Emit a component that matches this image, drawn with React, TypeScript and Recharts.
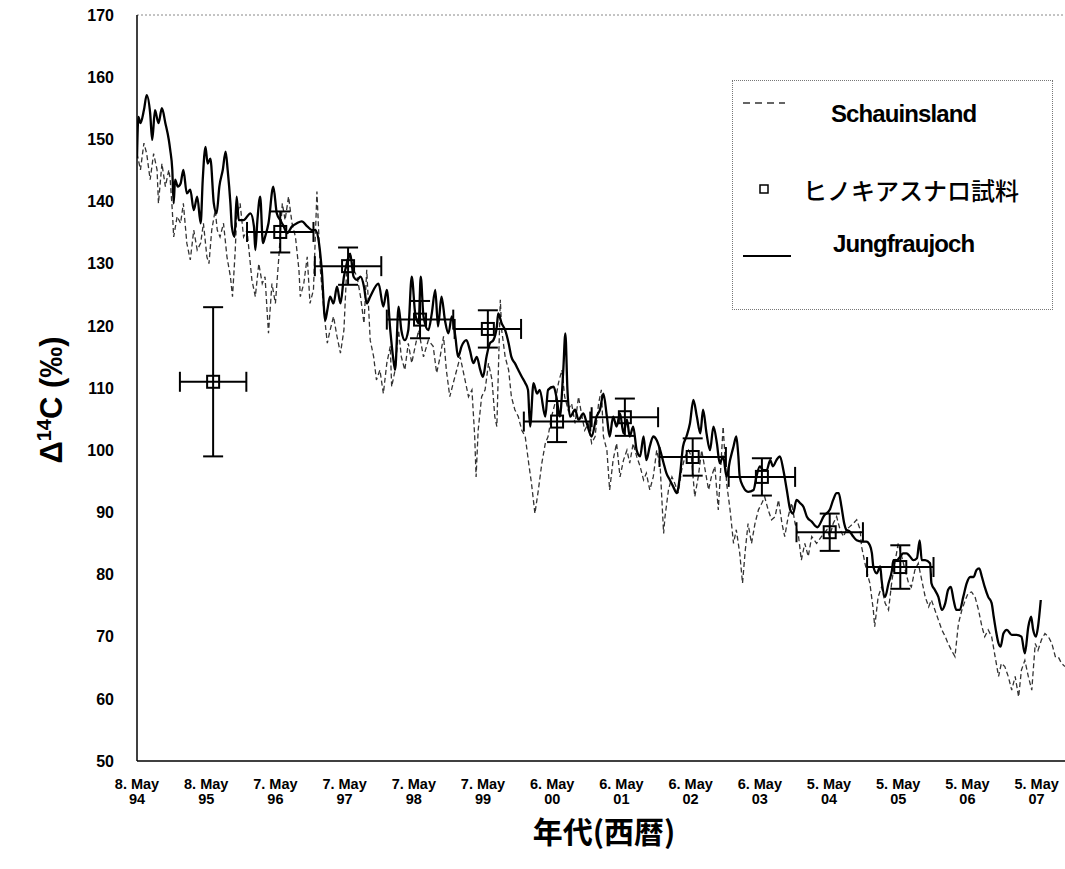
import React from 'react';
import {
  ComposedChart,
  Line,
  Scatter,
  ErrorBar,
  XAxis,
  YAxis,
  ReferenceLine,
  Legend,
} from 'recharts';

// Jungfraujoch (solid) — decimal year / Δ14C ‰
const jfTimes = [
  1994.35, 1994.37, 1994.4, 1994.45, 1994.49, 1994.54, 1994.57, 1994.61, 1994.66, 1994.71, 1994.76, 1994.81, 1994.83,
  1994.86, 1994.88, 1994.9, 1994.94, 1994.98, 1995.02, 1995.07, 1995.12, 1995.17, 1995.22, 1995.27, 1995.3, 1995.34,
  1995.37, 1995.41, 1995.46, 1995.5, 1995.54, 1995.59, 1995.63, 1995.66, 1995.7, 1995.72, 1995.76, 1995.79, 1995.82,
  1995.89, 1995.99, 1996.04, 1996.06, 1996.09, 1996.13, 1996.17, 1996.2, 1996.25, 1996.32, 1996.37, 1996.42, 1996.47,
  1996.52, 1996.59, 1996.66, 1996.73, 1996.81, 1996.88, 1996.93, 1996.98, 1997.02, 1997.07, 1997.1, 1997.14, 1997.19,
  1997.24, 1997.29, 1997.34, 1997.38, 1997.43, 1997.48, 1997.53, 1997.58, 1997.63, 1997.67, 1997.72, 1997.84, 1997.91,
  1997.96, 1998.01, 1998.05, 1998.08, 1998.13, 1998.17, 1998.22, 1998.27, 1998.32, 1998.37, 1998.42, 1998.45, 1998.49,
  1998.56, 1998.61, 1998.66, 1998.7, 1998.75, 1998.8, 1998.85, 1998.9, 1998.95, 1998.99, 1999.04, 1999.11, 1999.16,
  1999.21, 1999.26, 1999.31, 1999.35, 1999.4, 1999.45, 1999.5, 1999.55, 1999.57, 1999.62, 1999.67, 1999.72, 1999.76,
  1999.81, 1999.86, 1999.91, 1999.96, 2000.0, 2000.03, 2000.08, 2000.13, 2000.17, 2000.25, 2000.29, 2000.37, 2000.41,
  2000.46, 2000.51, 2000.54, 2000.57, 2000.61, 2000.68, 2000.73, 2000.8, 2000.85, 2000.92, 2000.99, 2001.04, 2001.09,
  2001.14, 2001.18, 2001.23, 2001.28, 2001.33, 2001.38, 2001.43, 2001.47, 2001.52, 2001.57, 2001.62, 2001.67, 2001.71,
  2001.76, 2001.81, 2001.86, 2001.91, 2001.96, 2002.0, 2002.05, 2002.1, 2002.15, 2002.2, 2002.24, 2002.29, 2002.34,
  2002.39, 2002.44, 2002.49, 2002.53, 2002.58, 2002.63, 2002.68, 2002.73, 2002.77, 2002.82, 2002.87, 2002.92, 2002.97,
  2003.01, 2003.04, 2003.06, 2003.11, 2003.18, 2003.26, 2003.3, 2003.35, 2003.4, 2003.45, 2003.5, 2003.54, 2003.59,
  2003.64, 2003.69, 2003.74, 2003.79, 2003.83, 2003.88, 2003.93, 2003.98, 2004.03, 2004.1, 2004.18, 2004.28, 2004.36,
  2004.41, 2004.46, 2004.49, 2004.53, 2004.57, 2004.6, 2004.65, 2004.7, 2004.75, 2004.82, 2004.89, 2004.94, 2004.97,
  2004.99, 2005.04, 2005.09, 2005.11, 2005.16, 2005.21, 2005.26, 2005.28, 2005.33, 2005.38, 2005.42, 2005.47, 2005.52,
  2005.57, 2005.62, 2005.66, 2005.69, 2005.74, 2005.81, 2005.83, 2005.88, 2005.93, 2005.98, 2006.03, 2006.07, 2006.11,
  2006.15, 2006.19, 2006.24, 2006.29, 2006.34, 2006.39, 2006.44, 2006.48, 2006.52, 2006.56, 2006.6, 2006.65, 2006.7,
  2006.73, 2006.76, 2006.8, 2006.83, 2006.87, 2006.92, 2006.99, 2007.06, 2007.13, 2007.18, 2007.23, 2007.27, 2007.3,
  2007.34, 2007.37, 2007.41,
];
const jfValues = [
  147.0, 153.6, 152.6, 154.7, 157.1, 154.2, 149.9, 154.7, 152.6, 155.0, 152.6, 149.9, 148.3,
  145.1, 139.7, 143.5, 142.4, 142.9, 145.1, 141.3, 141.9, 138.6, 140.8, 136.5, 143.5, 148.8,
  146.1, 146.9, 139.7, 138.1, 142.4, 145.1, 148.0, 145.1, 139.7, 136.0, 134.3, 140.8, 137.0,
  137.0, 138.1, 136.0, 132.2, 137.0, 140.8, 133.3, 134.3, 136.5, 142.4, 138.1, 137.0, 136.0,
  134.9, 136.0, 136.5, 136.8, 136.0, 135.4, 135.4, 133.3, 129.0, 120.9, 122.5, 124.7, 123.6,
  126.3, 123.6, 127.9, 130.0, 131.6, 127.9, 127.4, 127.9, 126.3, 123.6, 124.7, 126.8, 123.1,
  125.8, 119.3, 115.0, 112.9, 123.1, 119.3, 117.7, 119.3, 127.9, 122.0, 120.4, 127.9, 121.5,
  119.3, 122.0, 125.8, 119.9, 124.7, 120.9, 118.8, 121.5, 118.3, 115.0, 116.7, 117.7, 116.1,
  114.0, 115.0, 112.9, 111.8, 115.0, 117.2, 117.7, 119.9, 122.0, 120.4, 119.3, 117.2, 115.0,
  114.0, 112.9, 111.8, 110.8, 109.7, 103.8, 110.8, 109.1, 109.7, 105.4, 109.7, 110.2, 108.6,
  105.4, 112.9, 118.8, 109.7, 105.4, 106.5, 104.9, 105.9, 104.3, 102.2, 105.4, 106.5, 109.1,
  105.4, 102.2, 105.4, 103.8, 105.9, 102.7, 104.9, 102.2, 103.8, 100.0, 99.0, 102.2, 98.4,
  100.6, 102.2, 101.6, 100.0, 97.9, 96.3, 95.2, 94.1, 93.1, 96.3, 100.6, 102.2, 104.3,
  108.1, 105.4, 102.7, 106.5, 102.7, 100.0, 103.8, 101.1, 97.9, 99.0, 95.7, 98.4, 100.6,
  102.2, 99.0, 95.7, 94.1, 93.3, 93.6, 95.7, 97.4, 96.8, 96.8, 98.4, 97.4, 98.4,
  99.0, 96.8, 93.6, 90.4, 89.8, 92.0, 91.5, 90.9, 89.3, 88.5, 87.6, 89.5, 90.4,
  92.0, 93.1, 93.1, 90.9, 88.2, 87.2, 86.9, 86.1, 85.5, 85.3, 85.3, 84.7, 83.4,
  81.3, 80.2, 81.3, 79.1, 76.4, 78.6, 80.7, 82.3, 82.3, 82.9, 83.4, 83.4, 82.9,
  82.3, 82.6, 85.5, 82.3, 82.3, 81.8, 78.6, 77.5, 76.4, 74.3, 75.4, 77.5, 78.0,
  75.9, 74.3, 74.3, 76.4, 78.6, 79.6, 79.6, 80.7, 81.0, 79.6, 78.0, 76.4, 75.4,
  73.2, 71.1, 68.9, 68.4, 70.5, 71.1, 70.3, 70.3, 70.0, 67.3, 71.6, 73.2, 71.1,
  70.0, 71.6, 75.9,
];

// Schauinsland (dashed)
const shTimes = [
  1994.35, 1994.4, 1994.45, 1994.49, 1994.54, 1994.59, 1994.64, 1994.66, 1994.71, 1994.76, 1994.81, 1994.83, 1994.86,
  1994.88, 1994.93, 1994.98, 1995.02, 1995.07, 1995.12, 1995.17, 1995.22, 1995.27, 1995.31, 1995.36, 1995.39, 1995.43,
  1995.48, 1995.51, 1995.55, 1995.6, 1995.65, 1995.7, 1995.73, 1995.77, 1995.79, 1995.84, 1995.89, 1995.94, 1996.01,
  1996.06, 1996.11, 1996.16, 1996.2, 1996.25, 1996.3, 1996.35, 1996.4, 1996.45, 1996.49, 1996.54, 1996.59, 1996.64,
  1996.69, 1996.71, 1996.76, 1996.81, 1996.85, 1996.9, 1996.95, 1997.0, 1997.05, 1997.1, 1997.14, 1997.19, 1997.24,
  1997.29, 1997.34, 1997.38, 1997.43, 1997.48, 1997.53, 1997.58, 1997.63, 1997.67, 1997.72, 1997.77, 1997.81, 1997.86,
  1997.91, 1997.96, 1998.01, 1998.03, 1998.08, 1998.13, 1998.17, 1998.22, 1998.27, 1998.32, 1998.37, 1998.42, 1998.49,
  1998.56, 1998.63, 1998.68, 1998.73, 1998.78, 1998.82, 1998.87, 1998.92, 1998.97, 1999.02, 1999.09, 1999.14, 1999.19,
  1999.23, 1999.25, 1999.28, 1999.33, 1999.38, 1999.43, 1999.48, 1999.52, 1999.55, 1999.6, 1999.62, 1999.67, 1999.72,
  1999.76, 1999.81, 1999.86, 1999.91, 1999.96, 2000.01, 2000.05, 2000.1, 2000.15, 2000.2, 2000.25, 2000.29, 2000.34,
  2000.39, 2000.44, 2000.49, 2000.53, 2000.58, 2000.63, 2000.68, 2000.73, 2000.78, 2000.82, 2000.87, 2000.92, 2000.97,
  2001.02, 2001.06, 2001.09, 2001.14, 2001.18, 2001.23, 2001.28, 2001.33, 2001.38, 2001.43, 2001.47, 2001.52, 2001.57,
  2001.62, 2001.67, 2001.71, 2001.76, 2001.81, 2001.86, 2001.91, 2001.96, 2001.98, 2002.03, 2002.08, 2002.12, 2002.17,
  2002.22, 2002.27, 2002.32, 2002.36, 2002.41, 2002.46, 2002.51, 2002.56, 2002.61, 2002.65, 2002.7, 2002.75, 2002.8,
  2002.82, 2002.87, 2002.92, 2002.97, 2003.01, 2003.06, 2003.1, 2003.14, 2003.18, 2003.23, 2003.28, 2003.33, 2003.38,
  2003.42, 2003.47, 2003.52, 2003.57, 2003.62, 2003.67, 2003.71, 2003.76, 2003.81, 2003.86, 2003.91, 2003.95, 2004.0,
  2004.05, 2004.1, 2004.17, 2004.24, 2004.32, 2004.36, 2004.41, 2004.46, 2004.51, 2004.56, 2004.6, 2004.65, 2004.7,
  2004.75, 2004.8, 2004.82, 2004.85, 2004.89, 2004.94, 2004.99, 2005.01, 2005.06, 2005.11, 2005.16, 2005.21, 2005.26,
  2005.3, 2005.35, 2005.4, 2005.45, 2005.5, 2005.54, 2005.59, 2005.64, 2005.69, 2005.74, 2005.79, 2005.83, 2005.88,
  2005.93, 2005.98, 2006.03, 2006.07, 2006.12, 2006.17, 2006.22, 2006.27, 2006.32, 2006.36, 2006.41, 2006.46, 2006.51,
  2006.56, 2006.6, 2006.65, 2006.7, 2006.75, 2006.8, 2006.84, 2006.89, 2006.94, 2006.99, 2007.04, 2007.09, 2007.13,
  2007.18, 2007.23, 2007.28, 2007.33, 2007.37, 2007.42, 2007.47, 2007.52, 2007.57, 2007.62, 2007.66, 2007.71, 2007.76,
];
const shValues = [
  147.7, 145.1, 149.4, 147.7, 143.5, 147.7, 145.1, 139.7, 146.1, 142.4, 145.1, 143.5, 138.6,
  134.3, 137.6, 136.5, 139.7, 133.3, 130.6, 135.4, 132.2, 133.3, 136.5, 131.1, 130.0, 135.4,
  138.6, 135.4, 134.3, 136.5, 131.1, 127.9, 124.7, 132.2, 137.6, 139.7, 134.3, 135.4, 127.4,
  124.7, 130.0, 126.8, 127.9, 118.8, 126.8, 123.6, 131.1, 139.7, 137.0, 140.8, 136.5, 134.3,
  129.0, 124.7, 126.8, 131.1, 123.6, 125.8, 141.6, 129.0, 122.5, 117.2, 119.3, 121.5, 118.3,
  115.6, 119.3, 129.0, 131.6, 129.0, 127.9, 124.7, 120.4, 129.0, 117.7, 115.0, 111.3, 112.9,
  109.1, 114.0, 116.7, 110.2, 112.9, 119.3, 115.0, 112.9, 117.2, 114.0, 116.7, 119.3, 115.0,
  117.7, 116.7, 112.4, 115.0, 118.3, 112.9, 108.6, 110.8, 112.9, 115.0, 111.3, 108.6, 109.7,
  102.2, 95.7, 103.2, 108.6, 109.7, 114.0, 111.3, 105.4, 103.8, 124.2, 119.3, 115.0, 112.9,
  108.6, 106.5, 105.4, 103.2, 102.2, 97.9, 94.7, 89.8, 93.6, 97.9, 101.1, 102.2, 105.4,
  107.5, 110.8, 112.9, 108.6, 106.5, 107.5, 104.3, 108.6, 105.4, 103.2, 104.3, 101.1, 102.2,
  107.5, 109.7, 102.2, 100.0, 93.6, 98.4, 101.1, 95.7, 98.4, 100.0, 97.9, 101.1, 99.0,
  97.4, 95.2, 96.3, 93.6, 95.7, 100.0, 97.4, 86.6, 89.3, 93.6, 95.7, 94.7, 93.1,
  96.8, 99.0, 100.0, 99.0, 92.5, 95.7, 100.0, 96.8, 93.6, 95.7, 97.4, 90.4, 100.0,
  103.8, 94.7, 90.4, 85.0, 87.2, 83.4, 78.6, 83.9, 88.2, 85.0, 88.2, 90.4, 91.5,
  92.5, 90.4, 88.8, 89.3, 92.0, 88.2, 86.1, 89.3, 91.5, 88.2, 86.1, 82.3, 85.0,
  82.9, 86.1, 85.0, 86.1, 87.2, 86.1, 88.2, 89.3, 87.2, 86.1, 87.2, 87.7, 88.2,
  88.8, 87.2, 84.5, 82.9, 80.7, 78.6, 74.3, 71.6, 76.4, 78.0, 75.4, 74.3, 79.1,
  81.8, 85.0, 82.9, 80.7, 78.6, 78.0, 80.7, 81.8, 79.1, 76.4, 74.8, 75.9, 74.3,
  72.7, 71.1, 70.0, 68.9, 67.8, 66.8, 72.1, 74.3, 75.9, 77.0, 77.2, 76.4, 74.3,
  71.6, 70.0, 71.1, 70.0, 66.8, 63.6, 65.7, 65.2, 63.6, 61.4, 63.6, 60.3, 64.6,
  66.2, 63.6, 61.4, 68.9, 67.8, 69.5, 70.5, 70.0, 68.9, 66.8, 66.8, 65.7, 65.2,
];

// ヒノキアスナロ試料 (tree-ring samples)
const sampleTimes = [1995.45, 1996.42, 1997.4, 1998.44, 1999.42, 2000.42, 2001.4, 2002.38, 2003.38, 2004.36, 2005.38];
const sampleValues = [111.0, 135.1, 129.6, 121.0, 119.5, 104.6, 105.3, 98.9, 95.7, 86.8, 81.2];
const sampleYErr = [12, 3.3, 3, 3, 3, 3.3, 3, 3, 3, 3, 3.5];
const sampleXErr = [0.48, 0.48, 0.48, 0.48, 0.48, 0.48, 0.48, 0.48, 0.48, 0.48, 0.48];

const xTicks = [
  1994.35, 1995.35, 1996.35, 1997.35, 1998.35, 1999.35, 2000.35, 2001.35, 2002.35, 2003.35, 2004.35, 2005.35, 2006.35,
  2007.35,
];
const xTickDays = ['8. May', '8. May', '7. May', '7. May', '7. May', '7. May', '6. May', '6. May', '6. May', '6. May', '5. May', '5. May', '5. May', '5. May'];
const xTickYears = ['94', '95', '96', '97', '98', '99', '00', '01', '02', '03', '04', '05', '06', '07'];
const yTicks = [50, 60, 70, 80, 90, 100, 110, 120, 130, 140, 150, 160, 170];

const jfData = jfTimes.map((t, i) => ({ t, v: jfValues[i] }));
const shData = shTimes.map((t, i) => ({ t, v: shValues[i] }));
const sampleData = sampleTimes.map((t, i) => ({ t, v: sampleValues[i], ex: sampleXErr[i], ey: sampleYErr[i] }));

const SANS = '"Liberation Sans", Arial, sans-serif';
const CJK = '"Noto Sans CJK JP", sans-serif';

const DateTick = (props: any) => {
  const { x, y, payload } = props;
  const i = xTicks.indexOf(payload.value);
  return (
    <g>
      <text x={x} y={y + 20} textAnchor="middle" fontSize={14.5} fontWeight="bold" fontFamily={SANS} fill="#000">
        {xTickDays[i]}
      </text>
      <text x={x} y={y + 35} textAnchor="middle" fontSize={14.5} fontWeight="bold" fontFamily={SANS} fill="#000">
        {xTickYears[i]}
      </text>
    </g>
  );
};

const SquareDot = (props: any) => {
  const { cx, cy } = props;
  if (cx == null || cy == null) return null;
  return <rect x={cx - 6} y={cy - 6} width={12} height={12} fill="none" stroke="#000" strokeWidth={2} />;
};

const XTitle = () => (
  <text x={596} y={835} textAnchor="middle" fontSize={30} fontWeight="bold" fontFamily={CJK} fill="#000">
    年代(西暦)
  </text>
);

const YTitle = () => (
  <text
    x={0}
    y={0}
    transform="translate(54 392) rotate(-90)"
    textAnchor="middle"
    fontSize={31}
    fontWeight="bold"
    fontFamily={SANS}
    fill="#000"
  >
    Δ<tspan fontSize={20} dy={-11}>14</tspan>
    <tspan dy={11}>C (‰)</tspan>
  </text>
);

const LegendBox = () => (
  <div
    style={{
      width: 321,
      height: 230,
      boxSizing: 'border-box',
      border: '1px dotted #777',
      background: '#fff',
      position: 'relative',
      fontFamily: SANS,
    }}
  >
    <svg width={60} height={230} style={{ position: 'absolute', left: 0, top: 0 }}>
      <line x1={10} y1={22} x2={52} y2={22} stroke="#333" strokeWidth={1.5} strokeDasharray="7 5" />
      <rect x={27} y={104} width={8} height={8} fill="none" stroke="#000" strokeWidth={1.5} />
      <line x1={10} y1={175} x2={58} y2={175} stroke="#000" strokeWidth={2} />
    </svg>
    <div style={{ position: 'absolute', left: 98, top: 19, fontSize: 24, fontWeight: 'bold', letterSpacing: -0.9 }}>
      Schauinsland
    </div>
    <div style={{ position: 'absolute', left: 70, top: 91, fontSize: 24, fontWeight: 500, fontFamily: CJK }}>
      ヒノキアスナロ試料
    </div>
    <div style={{ position: 'absolute', left: 100, top: 149, fontSize: 24, fontWeight: 'bold', letterSpacing: -0.9 }}>
      Jungfraujoch
    </div>
  </div>
);

export default function App() {
  return (
    <div
      style={{
        position: 'fixed',
        left: 0,
        top: 0,
        width: 1065,
        height: 869,
        overflow: 'hidden',
        background: '#fff',
        fontFamily: SANS,
      }}
    >
      <div style={{ position: 'absolute', left: 8, top: 8, width: 1057, height: 853 }}>
        <ComposedChart width={1057} height={853} margin={{ top: 7, right: 0, bottom: 0, left: 0 }}>
          <XAxis
            dataKey="t"
            type="number"
            domain={[1994.35, 2007.76]}
            ticks={xTicks}
            allowDataOverflow
            interval={0}
            height={100}
            tickLine={false}
            tick={<DateTick />}
            axisLine={{ stroke: '#000', strokeWidth: 1.5 }}
            label={<XTitle />}
          />
          <YAxis
            dataKey="v"
            type="number"
            domain={[50, 170]}
            ticks={yTicks}
            interval={0}
            width={129}
            tickLine={false}
            tickMargin={17}
            tick={{ fontSize: 16, fontWeight: 'bold', fill: '#000', fontFamily: SANS }}
            axisLine={{ stroke: '#000', strokeWidth: 1.5 }}
            label={<YTitle />}
          />
          <ReferenceLine y={170} stroke="#888" strokeDasharray="2 2" />
          <Line
            data={shData}
            dataKey="v"
            type="linear"
            stroke="#333"
            strokeWidth={1.3}
            strokeDasharray="5 3"
            dot={false}
            isAnimationActive={false}
            legendType="none"
          />
          <Line
            data={jfData}
            dataKey="v"
            type="monotone"
            stroke="#000"
            strokeWidth={2.3}
            dot={false}
            isAnimationActive={false}
            legendType="none"
          />
          <Scatter data={sampleData} dataKey="v" shape={<SquareDot />} isAnimationActive={false} legendType="none">
            <ErrorBar dataKey="ex" direction="x" width={10} stroke="#000" strokeWidth={2} />
            <ErrorBar dataKey="ey" direction="y" width={10} stroke="#000" strokeWidth={2} />
          </Scatter>
          <Legend
            layout="vertical"
            align="center"
            verticalAlign="middle"
            content={<LegendBox />}
            wrapperStyle={{ position: 'absolute', left: 724, top: 72, width: 321, height: 230 }}
          />
        </ComposedChart>
      </div>
    </div>
  );
}
